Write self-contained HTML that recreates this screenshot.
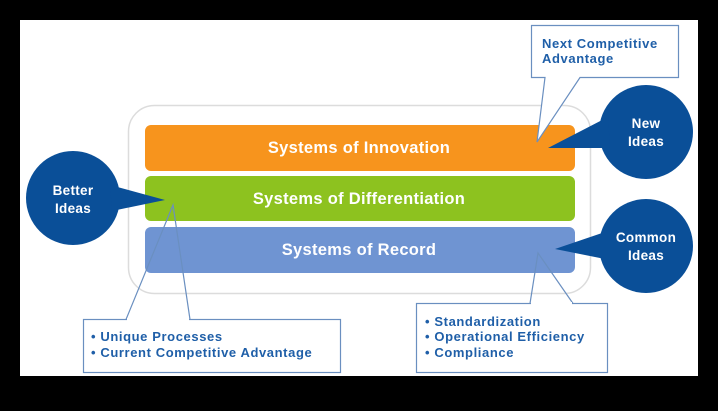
<!DOCTYPE html>
<html><head><style>
body{margin:0;background:#000;width:718px;height:411px;overflow:hidden}
svg{display:block}
text{font-family:"Liberation Sans",sans-serif;font-weight:bold}
</style></head><body>
<svg width="718" height="411" viewBox="0 0 718 411">
<rect x="0" y="0" width="718" height="411" fill="#000"/>
<rect x="20" y="20" width="678" height="356" fill="#fff"/>
<rect x="128.5" y="105.5" width="462" height="188" rx="26" fill="#fff" stroke="#dcdcdc" stroke-width="1.5"/>
<rect x="145" y="125" width="430" height="46" rx="6" fill="#f7941d"/>
<rect x="145" y="176" width="430" height="45" rx="6" fill="#8dc21f"/>
<rect x="145" y="227" width="430" height="46" rx="6" fill="#6f94d2"/>
<g fill="#fff" font-size="16.5" text-anchor="middle" letter-spacing="0.3">
<text x="359" y="153">Systems of Innovation</text>
<text x="359" y="204">Systems of Differentiation</text>
<text x="359" y="255">Systems of Record</text>
</g>
<!-- circles -->
<g fill="#0a4f98">
<circle cx="73" cy="198" r="47"/>
<polygon points="110,185 165,200 112,211"/>
<circle cx="646" cy="132" r="47"/>
<polygon points="608,117 548,148 610,148"/>
<circle cx="646" cy="246" r="47"/>
<polygon points="605,232 555,249 605,259"/>
</g>
<g fill="#fff" font-size="13.5" text-anchor="middle" letter-spacing="0.3">
<text x="73" y="195">Better</text><text x="73" y="213">Ideas</text>
<text x="646" y="128">New</text><text x="646" y="146">Ideas</text>
<text x="646" y="242">Common</text><text x="646" y="260">Ideas</text>
</g>
<!-- callouts -->
<g fill="#fff" stroke="#6a8fc0" stroke-width="1.2">
<rect x="83.5" y="319.5" width="257" height="53"/>
<rect x="416.5" y="303.5" width="191" height="69"/>
<path d="M531.5,25.5 H678.5 V77.5 H580 L537,142 L545,77.5 H531.5 Z"/>
</g>
<g fill="none" stroke="#6a8fc0" stroke-width="1.2">
<path d="M126,319.5 L173,205 L190,319.5"/>
<path d="M530,303.5 L538,253 L573,303.5"/>
</g>
<g fill="#fff">
<rect x="127" y="318" width="62" height="2.5"/>
<rect x="531" y="302" width="41" height="2.5"/>
</g>
<g fill="#1f5fa8" font-size="13" letter-spacing="0.6">
<text x="91" y="341">•  Unique Processes</text>
<text x="91" y="357">•  Current Competitive Advantage</text>
<text x="425" y="326">•  Standardization</text>
<text x="425" y="341">•  Operational Efficiency</text>
<text x="425" y="357">•  Compliance</text>
<text x="542" y="48">Next Competitive</text>
<text x="542" y="63">Advantage</text>
</g>
</svg>
</body></html>
